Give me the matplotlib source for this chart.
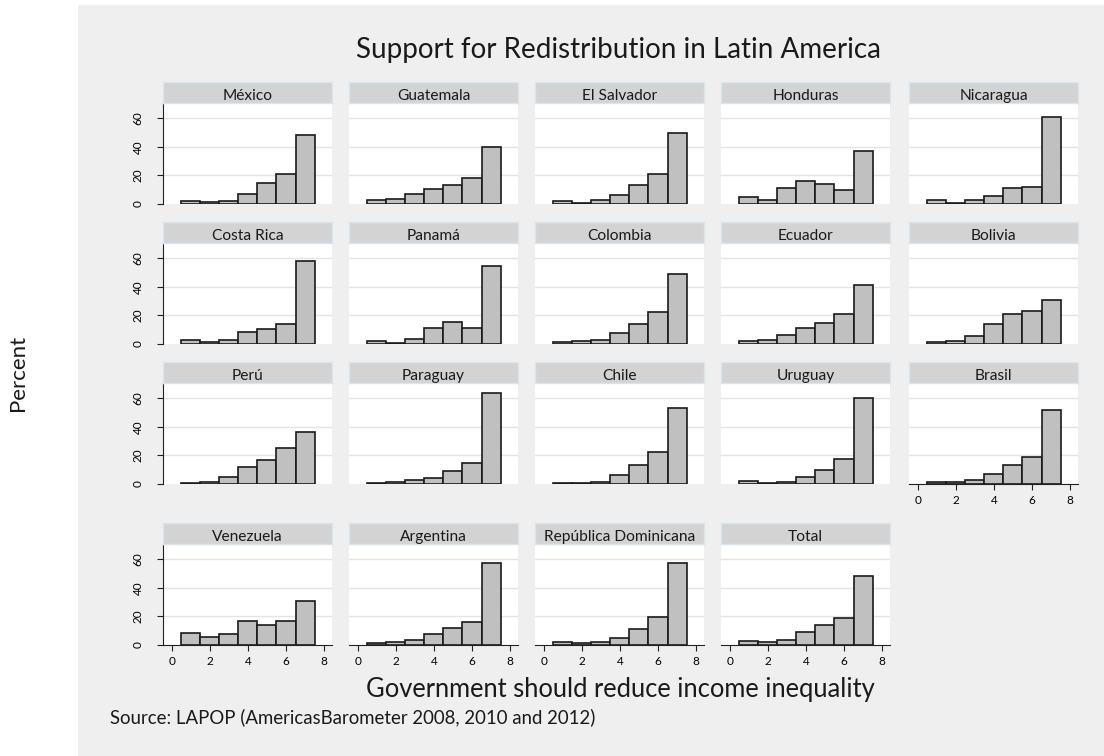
import numpy as np
import matplotlib
matplotlib.use('Agg')
import matplotlib.pyplot as plt
from matplotlib.patches import Rectangle

plt.rcParams['font.family'] = ['Lato', 'DejaVu Sans']

# Response categories (1-7 scale) and percent per country
categories = [1, 2, 3, 4, 5, 6, 7]

countries = ['México', 'Guatemala', 'El Salvador', 'Honduras', 'Nicaragua',
             'Costa Rica', 'Panamá', 'Colombia', 'Ecuador', 'Bolivia',
             'Perú', 'Paraguay', 'Chile', 'Uruguay', 'Brasil',
             'Venezuela', 'Argentina', 'República Dominicana', 'Total']

mexico      = [2.3, 1.6, 2.3, 7.2, 14.7, 20.7, 48.3]
guatemala   = [3.0, 3.5, 7.0, 10.5, 13.3, 18.4, 40.0]
el_salvador = [1.9, 0.7, 3.0, 6.5, 13.5, 20.7, 49.3]
honduras    = [5.1, 3.0, 11.4, 16.3, 14.2, 9.8, 36.7]
nicaragua   = [3.0, 0.9, 2.8, 5.8, 11.4, 11.9, 60.7]
costa_rica  = [3.0, 1.6, 3.0, 8.6, 10.3, 14.0, 58.0]
panama      = [2.3, 0.9, 3.5, 11.2, 15.2, 11.4, 54.5]
colombia    = [1.6, 2.1, 2.8, 7.7, 14.2, 22.6, 49.0]
ecuador     = [2.3, 2.8, 6.1, 11.0, 14.7, 21.2, 41.0]
bolivia     = [1.6, 2.3, 5.6, 14.2, 21.2, 22.8, 30.8]
peru        = [0.7, 1.6, 4.7, 11.7, 16.6, 25.3, 36.1]
paraguay    = [0.9, 1.4, 2.6, 4.2, 9.1, 15.0, 63.7]
chile       = [0.5, 0.5, 1.4, 6.6, 13.6, 22.0, 52.9]
uruguay     = [2.1, 0.9, 1.6, 5.2, 9.6, 17.3, 60.0]
brasil      = [1.6, 1.2, 2.8, 7.0, 13.6, 18.7, 51.5]
venezuela   = [8.4, 5.4, 8.0, 16.6, 14.3, 16.6, 30.9]
argentina   = [1.4, 2.1, 3.7, 7.5, 11.7, 16.4, 57.4]
rep_dom     = [2.0, 1.2, 2.3, 5.2, 11.3, 19.8, 57.0]
total       = [2.5, 2.0, 3.8, 9.3, 14.0, 18.5, 48.0]

percents = [mexico, guatemala, el_salvador, honduras, nicaragua,
            costa_rica, panama, colombia, ecuador, bolivia,
            peru, paraguay, chile, uruguay, brasil,
            venezuela, argentina, rep_dom, total]

W, H = 1104, 756
fig = plt.figure(figsize=(W / 100, H / 100), dpi=100)
fig.patch.set_facecolor('white')
fig.patches.append(Rectangle((78 / W, 0), 1 - 78 / W, 1 - 5 / H,
                             transform=fig.transFigure, facecolor='#efefef',
                             edgecolor='none', zorder=-10))

def box(x, y, w, h):
    # pixel box (top-left origin) -> figure fraction rect
    return [x / W, 1 - (y + h) / H, w / W, h / H]

col_x = [163, 349, 535, 721, 909]
row_top = [103, 243, 383, 544]
pw, ph, sh = 169, 101, 21

for i, (name, vals) in enumerate(zip(countries, percents)):
    r, c = divmod(i, 5)
    ax = fig.add_axes(box(col_x[c], row_top[r], pw, ph))
    ax.set_facecolor('white')
    ax.bar(categories, vals, width=1.0, color='#c0c0c0',
           edgecolor='#1a1a1a', linewidth=1.2, zorder=3)
    ax.set_xlim(-0.47, 8.42)
    ax.set_ylim(0, 70.5)
    ax.set_yticks([0, 20, 40, 60])
    ax.set_xticks([0, 2, 4, 6, 8])
    for g in [20, 40, 60]:
        ax.axhline(g, color='#e4e4e4', linewidth=1.0, zorder=1)
    for s in ax.spines.values():
        s.set_visible(False)

    if c == 0:
        ax.spines['left'].set_visible(True)
        ax.spines['left'].set_color('#222222')
        ax.tick_params(axis='y', length=4, width=0.8, color='#222222',
                       labelsize=8.5, pad=10)
        for lab in ax.get_yticklabels():
            lab.set_rotation(90)
            lab.set_va('center')
    else:
        ax.tick_params(axis='y', left=False, labelleft=False)

    bottom_panel = (r == 3) or (r == 2 and c == 4)
    if bottom_panel:
        ax.spines['bottom'].set_visible(True)
        ax.spines['bottom'].set_color('#222222')
        ax.tick_params(axis='x', length=4, width=0.8, color='#222222',
                       labelsize=8.5, pad=4)
    else:
        ax.tick_params(axis='x', bottom=False, labelbottom=False)

    # facet header
    sax = fig.add_axes(box(col_x[c], row_top[r] - sh, pw, sh))
    sax.set_facecolor('#d3d3d3')
    sax.set_xticks([])
    sax.set_yticks([])
    for s in sax.spines.values():
        s.set_color('#dbe5ee')
        s.set_linewidth(1.0)
    sax.text(0.5, 0.42, name, ha='center', va='center_baseline', fontsize=11.2,
             color='#1a1a1a', transform=sax.transAxes)

fig.text(618 / W, 1 - 50 / H, 'Support for Redistribution in Latin America',
         ha='center', va='center', fontsize=20, color='#1a1a1a')
fig.text(620 / W, 1 - 689 / H, 'Government should reduce income inequality',
         ha='center', va='center', fontsize=18.4, color='#1a1a1a')
fig.text(110 / W, 1 - 717 / H, 'Source: LAPOP (AmericasBarometer 2008, 2010 and 2012)',
         ha='left', va='center', fontsize=13.4, color='#1a1a1a')
fig.text(18 / W, 1 - 373 / H, 'Percent', ha='center', va='center',
         rotation=90, fontsize=16, color='#1a1a1a')

fig.savefig('out.png', dpi=100)
